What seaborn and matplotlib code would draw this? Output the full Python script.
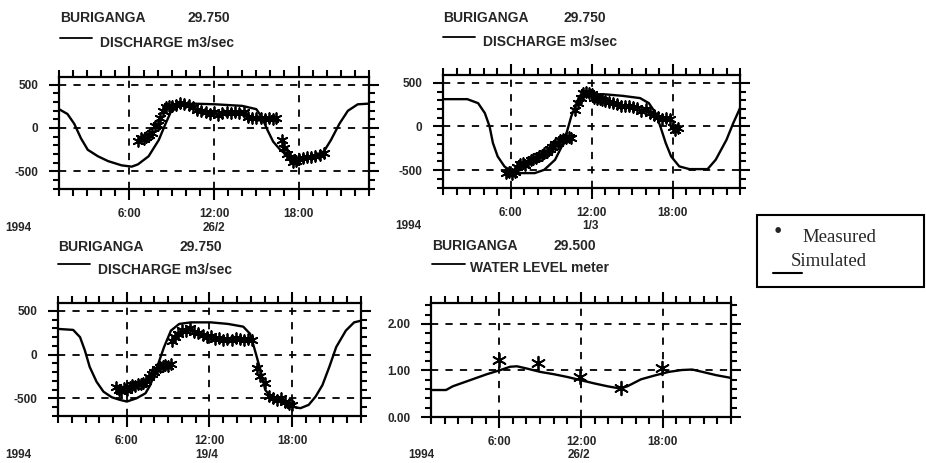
import matplotlib
matplotlib.use("Agg")
import matplotlib.pyplot as plt
from matplotlib.lines import Line2D
from matplotlib.patches import Rectangle
from matplotlib.ticker import FixedLocator, MultipleLocator
import pandas as pd
import seaborn as sns

# ---------------- data (hours of day, values) ----------------
# Panel 1: discharge 26/2
p1_sim_h = [1.0, 1.6, 2.08, 2.56, 3.04, 3.76, 4.48, 5.44, 6.16, 6.6, 7.36, 8.08, 8.56, 8.92, 9.5, 10.5,
            12.1, 14.0, 15.0, 15.4, 15.8, 16.2, 16.7, 17.4, 18.1, 19.0, 19.8, 20.3, 20.9, 21.5, 22.2, 23.0]
p1_sim_v = [218, 162, 49, -120, -252, -327, -383, -432, -447, -421, -327, -139, 49, 180, 256, 282,
            274, 256, 218, 124, -26, -158, -252, -346, -365, -327, -271, -139, 49, 199, 274, 282]
p1_meas_h = [6.6, 6.8, 7.0, 7.2, 7.4, 7.6, 7.8, 8.0, 8.2, 8.4, 8.6, 8.8, 9.0, 9.3, 9.6, 9.9, 10.2, 10.5,
             10.8, 11.1, 11.4, 11.7, 12.0, 12.3, 12.6, 12.9, 13.2, 13.5, 13.8, 14.1, 14.4, 14.7, 15.0,
             15.3, 15.6, 15.9, 16.2, 16.4, 16.8, 17.0, 17.2, 17.4, 17.6, 17.8, 18.0, 18.3, 18.6, 18.9,
             19.2, 19.5, 19.8]
p1_meas_v = [-150, -120, -130, -100, -80, -60, 20, 40, 110, 200, 240, 250, 260, 270, 290, 280, 270, 240,
             210, 200, 180, 160, 190, 150, 170, 190, 170, 180, 170, 180, 130, 110, 120,
             110, 100, 110, 100, 110, -140, -230, -300, -330, -390, -380, -360, -350, -340, -330,
             -320, -310, -290]

# Panel 2: discharge 1/3
p2_sim_h = [1.0, 2.8, 3.6, 4.1, 4.45, 4.7, 5.05, 5.55, 6.05, 6.8, 7.8, 8.5, 9.3, 9.8, 10.15, 10.5, 11.0,
            11.65, 12.85, 14.3, 15.6, 16.25, 16.75, 17.1, 17.5, 17.9, 18.5, 19.25, 20.6, 21.2, 22.0, 22.5, 23.0]
p2_sim_v = [313, 313, 267, 153, 0, -191, -344, -458, -516, -535, -535, -497, -382, -229, -76, 115, 306,
            363, 370, 351, 325, 267, 153, 0, -191, -344, -458, -489, -489, -382, -153, 38, 210]
p2_meas_h = [5.7, 5.9, 6.1, 6.3, 6.5, 6.7, 6.9, 7.1, 7.3, 7.5, 7.7, 7.9, 8.1, 8.3, 8.5, 8.7, 8.9, 9.1,
             9.3, 9.5, 9.7, 9.9, 10.1, 10.3, 10.5, 10.8, 11.0, 11.2, 11.4, 11.6, 11.8, 12.0, 12.2, 12.4,
             12.6, 12.8, 13.0, 13.3, 13.6, 13.9, 14.2, 14.5, 14.8, 15.1, 15.4, 15.7, 16.0, 16.3, 16.6,
             16.9, 17.2, 17.5, 17.8, 18.0, 18.2, 18.4]
p2_meas_v = [-530, -520, -540, -520, -460, -430, -420, -440, -410, -380, -370, -360, -340, -330, -300,
             -290, -260, -230, -200, -190, -150, -140, -130, -120, -130, 190, 270, 330, 380, 400, 380,
             370, 330, 310, 320, 300, 290, 280, 270, 260, 240, 230, 240, 220, 210, 180, 200, 150, 130,
             110, 90, 100, 80, -10, -40, -20]

# Panel 3: discharge 19/4
p3_sim_h = [1.0, 2.1, 2.6, 2.95, 3.3, 3.8, 4.3, 4.9, 5.5, 6.0, 6.7, 7.35, 7.7, 8.2, 8.7, 9.2, 9.8, 10.65,
            12.1, 13.35, 14.45, 14.95, 15.3, 15.7, 16.05, 16.55, 17.3, 18.0, 18.6, 19.2, 19.7, 20.2, 20.7,
            21.2, 21.9, 22.5, 23.0]
p3_sim_v = [294, 283, 200, 49, -139, -309, -422, -486, -516, -535, -498, -441, -347, -139, 87, 275, 351,
            369, 369, 351, 320, 238, 49, -177, -403, -498, -554, -592, -611, -573, -479, -347, -139,
            87, 275, 369, 388]
p3_meas_h = [5.2, 5.4, 5.6, 5.8, 6.0, 6.2, 6.4, 6.6, 6.8, 7.0, 7.2, 7.4, 7.6, 7.8, 8.0, 8.2, 8.4, 8.6,
             8.8, 9.0, 9.2, 9.3, 9.5, 9.7, 10.0, 10.3, 10.6, 10.9, 11.2, 11.5, 11.8, 12.1, 12.4, 12.7,
             13.0, 13.3, 13.6, 13.9, 14.2, 14.5, 14.8, 15.1, 15.45, 15.7, 16.0, 16.3, 16.6, 16.9, 17.2,
             17.5, 17.8, 18.0]
p3_meas_v = [-370, -400, -420, -380, -400, -370, -350, -360, -330, -340, -320, -300, -250, -220, -200,
             -160, -140, -130, -120, -130, -110, 160, 200, 240, 280, 270, 300, 260, 250, 220, 200, 210,
             180, 190, 170, 180, 170, 190, 180, 170, 180, 170, -150, -240, -320, -470, -500, -520, -500,
             -540, -560, -580]

# Panel 4: water level 26/2
p4_sim_h = [1.0, 2.1, 2.6, 3.85, 5.1, 6.1, 6.8, 7.3, 8.05, 9.0, 10.0, 11.0, 12.0, 13.0, 13.95, 14.9,
            15.4, 16.4, 17.5, 18.45, 19.4, 20.15, 20.9, 21.9, 23.0]
p4_sim_v = [0.58, 0.58, 0.66, 0.79, 0.92, 1.01, 1.08, 1.09, 1.04, 0.97, 0.92, 0.86, 0.79, 0.72, 0.66,
            0.61, 0.66, 0.81, 0.90, 0.97, 1.01, 1.02, 0.97, 0.90, 0.84]
p4_meas_h = [6.0, 8.85, 11.95, 14.9, 17.95]
p4_meas_v = [1.23, 1.16, 0.86, 0.62, 1.05]

x_ticks = [6, 12, 18]
x_tick_labels = ["6:00", "12:00", "18:00"]
q_ticks = [-500, 0, 500]
q_tick_labels = ["-500", "0", "500"]
wl_ticks = [0, 1, 2]
wl_tick_labels = ["0.00", "1.00", "2.00"]

headers = [
    ("BURIGANGA", "29.750", "DISCHARGE m3/sec", "26/2"),
    ("BURIGANGA", "29.750", "DISCHARGE m3/sec", "1/3"),
    ("BURIGANGA", "29.750", "DISCHARGE m3/sec", "19/4"),
    ("BURIGANGA", "29.500", "WATER LEVEL meter", "26/2"),
]
year_label = "1994"

# ---------------- style ----------------
sns.set_style("ticks")
plt.rcParams['font.family'] = ['Liberation Sans', 'DejaVu Sans']
plt.rcParams['font.weight'] = 'bold'

W, H = 926, 463
fig = plt.figure(figsize=(W / 100, H / 100), dpi=100)


def px_axes(x0, y0, x1, y1):
    return fig.add_axes([x0 / W, 1 - y1 / H, (x1 - x0) / W, (y1 - y0) / H])


def ftext(x, y, s, **kw):
    kw.setdefault('fontsize', 10)
    kw.setdefault('fontweight', 'bold')
    kw.setdefault('va', 'center')
    kw.setdefault('ha', 'left')
    fig.text(x / W, 1 - y / H, s, **kw)


def fline(x0, x1, y, lw=1.3):
    fig.add_artist(Line2D([x0 / W, x1 / W], [1 - y / H, 1 - y / H], color='black', lw=lw,
                          transform=fig.transFigure))


def style_axes(ax, yticks, ylabels, yminor, ylim):
    ax.set_xlim(1, 23)
    ax.set_ylim(*ylim)
    ax.xaxis.set_major_locator(FixedLocator(x_ticks))
    ax.set_xticklabels(x_tick_labels)
    ax.xaxis.set_minor_locator(MultipleLocator(1))
    ax.yaxis.set_major_locator(FixedLocator(yticks))
    ax.set_yticklabels(ylabels)
    ax.yaxis.set_minor_locator(MultipleLocator(yminor))
    ax.tick_params(axis='x', which='both', direction='out', top=True, bottom=True,
                   color='black', width=1.5)
    ax.tick_params(axis='x', which='major', length=8, pad=6, labelsize=8.5)
    ax.tick_params(axis='x', which='minor', length=5)
    ax.tick_params(axis='y', which='both', direction='out', left=True, right=True,
                   color='black', width=1.5)
    ax.tick_params(axis='y', which='major', length=7, pad=8, labelsize=8.5)
    ax.tick_params(axis='y', which='minor', length=4.5)
    for lab in ax.get_xticklabels() + ax.get_yticklabels():
        lab.set_fontweight('bold')
    ax.grid(True, which='major', linestyle=(0, (4, 4)), color='black', linewidth=1.3)
    for sp in ax.spines.values():
        sp.set_visible(True)
        sp.set_linewidth(1.6)
        sp.set_color('black')
    ax.set_xlabel("")
    ax.set_ylabel("")


def draw(ax, sim_h, sim_v, meas_h, meas_v, msize):
    sim = pd.DataFrame({"hour": sim_h, "value": sim_v})
    meas = pd.DataFrame({"hour": meas_h, "value": meas_v})
    sns.lineplot(data=sim, x="hour", y="value", ax=ax, color='black', linewidth=1.7,
                 estimator=None, sort=False, zorder=3)
    sns.scatterplot(data=meas, x="hour", y="value", ax=ax, marker=(6, 2, 0), s=msize,
                    color='black', linewidth=1.3, zorder=4)


panels = [
    ((59, 77, 369, 188.5), p1_sim_h, p1_sim_v, p1_meas_h, p1_meas_v, 'q'),
    ((443, 75, 740, 187.5), p2_sim_h, p2_sim_v, p2_meas_h, p2_meas_v, 'q'),
    ((58, 303, 361, 416), p3_sim_h, p3_sim_v, p3_meas_h, p3_meas_v, 'q'),
    ((431, 303, 731, 417), p4_sim_h, p4_sim_v, p4_meas_h, p4_meas_v, 'wl'),
]

for (box, sh, sv, mh, mv, kind) in panels:
    ax = px_axes(*box)
    if kind == 'q':
        draw(ax, sh, sv, mh, mv, 60)
        style_axes(ax, q_ticks, q_tick_labels, 100, (-700, 590))
    else:
        draw(ax, sh, sv, mh, mv, 95)
        style_axes(ax, wl_ticks, wl_tick_labels, 0.2, (0, 2.45))

# ---------------- header texts ----------------
hdr_pos = [
    # name_x, name_y, num_x, line_x0, line_x1, line_y, desc_x, desc_y, year_x, year_y, date_x
    (60, 18, 188, 60, 92, 38, 100, 43, 5, 228, 214),
    (443, 18, 563, 443, 475, 37, 483, 42, 395, 226, 590),
    (58, 247, 180, 58, 90, 264, 98, 270, 5, 455, 207),
    (432, 246, 553, 432, 465, 264, 470, 268, 408, 455, 579),
]
for (name, num, desc, date), (nx, ny, numx, lx0, lx1, ly, dx, dy, yx, yy, datex) in zip(headers, hdr_pos):
    ftext(nx, ny, name)
    ftext(numx, ny, num)
    fline(lx0, lx1, ly)
    ftext(dx, dy, desc)
    ftext(yx, yy, year_label, fontsize=8.5)
    ftext(datex, yy, date, fontsize=8.5, ha='center')

# ---------------- legend box ----------------
fig.add_artist(Rectangle((757 / W, 1 - 287 / H), (924 - 757) / W, (287 - 215) / H,
                         transform=fig.transFigure, fill=False, edgecolor='black', linewidth=1.5))
ftext(778, 233, "•", fontsize=17, fontweight='normal', ha='center',
      family=['Liberation Serif', 'DejaVu Serif'])
ftext(802, 237, "Measured", fontsize=13.5, fontweight='normal',
      family=['Liberation Serif', 'DejaVu Serif'])
ftext(791, 262, "Simulated", fontsize=13.5, fontweight='normal',
      family=['Liberation Serif', 'DejaVu Serif'])
fline(773, 802, 273, lw=1.5)

fig.savefig("out.png", dpi=100)
